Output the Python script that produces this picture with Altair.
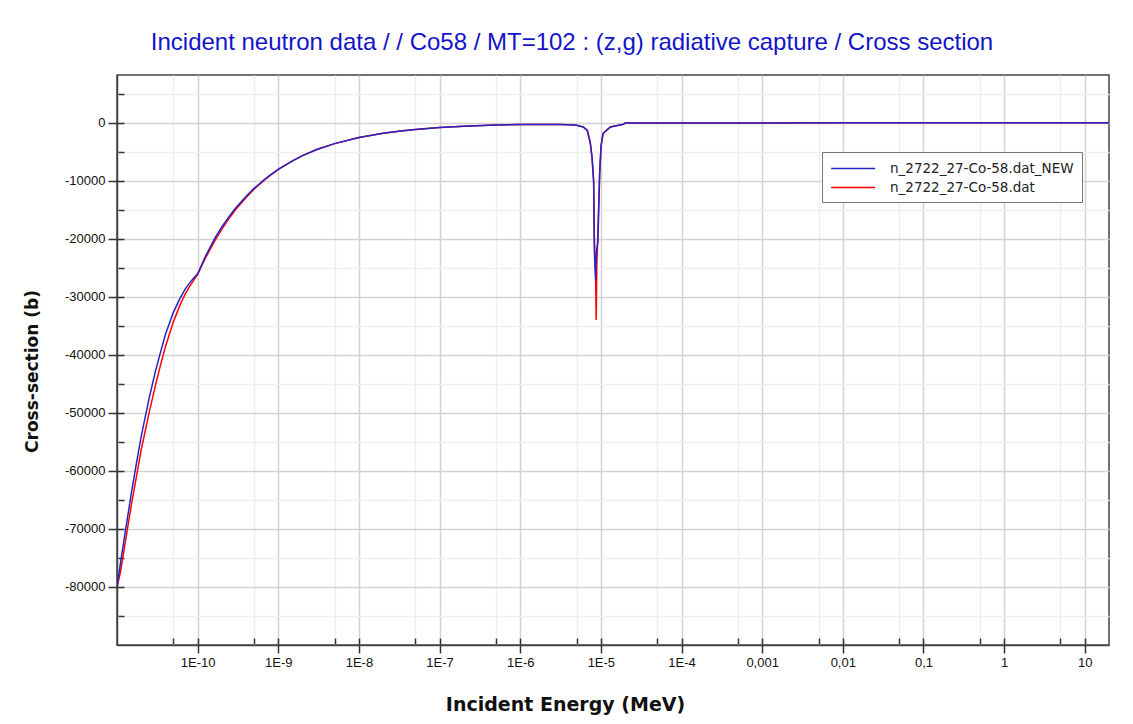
import altair as alt
import pandas as pd

TITLE = "Incident neutron data / / Co58 / MT=102 : (z,g) radiative capture / Cross section"
X_TITLE = "Incident Energy (MeV)"
Y_TITLE = "Cross-section (b)"
SERIES = ["n_2722_27-Co-58.dat_NEW", "n_2722_27-Co-58.dat"]
COLORS = ["#2323c8", "#ff0000"]

# series 1: n_2722_27-Co-58.dat_NEW (blue)
energy_new = [1e-11, 1.1e-11, 1.25e-11, 1.5e-11, 1.75e-11, 2e-11, 2.5e-11, 3e-11, 3.5e-11, 4e-11,
              5e-11, 6e-11, 7e-11, 8e-11, 9e-11, 1e-10, 1.25e-10, 1.65e-10, 2e-10, 2.5e-10,
              3e-10, 4e-10, 5e-10, 6.6e-10, 8e-10, 1e-9, 1.5e-9, 2e-9, 3e-9, 5e-9,
              1e-8, 2e-8, 3.3e-8, 5e-8, 1e-7, 2e-7, 5e-7, 1e-6, 2e-6, 3e-6,
              4e-6, 5e-6, 6.07e-6, 6.8e-6, 7.41e-6, 7.78e-6, 8.14e-6, 8.3e-6, 8.6e-6, 8.75e-6,
              9.2e-6, 9.66e-6, 1.006e-5, 1.065e-5, 1.31e-5, 1.9e-5, 2e-5, 1e-4, 1e-3, 1e-2,
              0.1, 1, 20]
xs_new = [-80000, -76000, -71000, -64000, -58500, -54000, -47500, -42800, -39300, -36400,
          -32670, -30340, -28660, -27540, -26700, -26020, -23000, -19800, -17900, -16000,
          -14600, -12650, -11300, -9850, -8950, -8000, -6550, -5650, -4600, -3580,
          -2530, -1790, -1400, -1130, -800, -570, -380, -300, -290, -300,
          -330, -420, -720, -1300, -3500, -5900, -9900, -22000, -27000, -22500,
          -20500, -8700, -3900, -1800, -700, -250, -30, -10, -4, -2,
          -1, -1, -1]

# series 2: n_2722_27-Co-58.dat (red)
energy_old = [1e-11, 1.1e-11, 1.25e-11, 1.5e-11, 1.75e-11, 2e-11, 2.5e-11, 3e-11, 3.5e-11, 4e-11,
              5e-11, 6e-11, 7e-11, 8e-11, 9e-11, 1e-10, 1.25e-10, 1.65e-10, 2e-10, 2.5e-10,
              3e-10, 4e-10, 5e-10, 6.6e-10, 8e-10, 1e-9, 1.5e-9, 2e-9, 3e-9, 5e-9,
              1e-8, 2e-8, 3.3e-8, 5e-8, 1e-7, 2e-7, 5e-7, 1e-6, 2e-6, 3e-6,
              4e-6, 5e-6, 6.07e-6, 6.8e-6, 7.41e-6, 7.78e-6, 8.14e-6, 8.3e-6, 8.45e-6, 8.6e-6,
              8.75e-6, 8.9e-6, 9.2e-6, 9.66e-6, 1.006e-5, 1.065e-5, 1.31e-5, 1.9e-5, 2e-5, 1e-4,
              1e-3, 1e-2, 0.1, 1, 20]
xs_old = [-80000, -77500, -72800, -66000, -60800, -56300, -50000, -45200, -41500, -38500,
          -34300, -31500, -29500, -28150, -27050, -26100, -23300, -20200, -18300, -16300,
          -14850, -12850, -11450, -9950, -9000, -8030, -6550, -5650, -4600, -3580,
          -2530, -1790, -1400, -1130, -800, -570, -380, -300, -290, -300,
          -330, -420, -730, -1320, -3600, -6100, -10300, -19500, -23000, -26000,
          -34000, -25000, -18500, -8900, -4000, -1850, -720, -260, -30, -10,
          -4, -2, -1, -1, -1]

x_major = [1e-10, 1e-9, 1e-8, 1e-7, 1e-6, 1e-5, 1e-4, 1e-3, 1e-2, 0.1, 1, 10]
x_labels = ["1E-10", "1E-9", "1E-8", "1E-7", "1E-6", "1E-5", "1E-4", "0,001", "0,01", "0,1", "1", "10"]
x_minor = [5e-11, 5e-10, 5e-9, 5e-8, 5e-7, 5e-6, 5e-5, 5e-4, 5e-3, 0.05, 0.5, 5]
y_major = [-80000, -70000, -60000, -50000, -40000, -30000, -20000, -10000, 0]
y_minor = [-85000, -75000, -65000, -55000, -45000, -35000, -25000, -15000, -5000, 5000]
x_domain = [1e-11, 20]
y_domain = [-90000, 8250]

df_new = pd.DataFrame({"E": energy_new, "xs": xs_new, "series": SERIES[0]})
df_old = pd.DataFrame({"E": energy_old, "xs": xs_old, "series": SERIES[1]})

x_all = sorted(x_major + x_minor)
y_all = sorted(y_major + y_minor)

xmaj_js = "[" + ",".join(repr(v) for v in x_major) + "]"
xlab_js = "[" + ",".join("'" + s + "'" for s in x_labels) + "]"
x_test = f"indexof({xmaj_js}, datum.value) >= 0"
x_label_expr = f"{x_test} ? {xlab_js}[indexof({xmaj_js}, datum.value)] : ''"
y_test = "datum.value % 10000 == 0"
y_label_expr = f"{y_test} ? (datum.value + '') : ''"

LABEL_FONT = "Liberation Sans"
TITLE_FONT = "DejaVu Sans"

x_scale = alt.Scale(type="log", domain=x_domain, nice=False)
y_scale = alt.Scale(domain=y_domain, nice=False, zero=False)
c_scale = alt.Scale(domain=SERIES, range=COLORS)

legend = alt.Legend(
    title=None, orient="none", legendX=705, legendY=77,
    fillColor="white", strokeColor="#777", padding=8, cornerRadius=0,
    symbolType="M-1,0H5", symbolSize=215, symbolStrokeWidth=1.5,
    labelOffset=43, labelFont="DejaVu Sans", labelFontSize=13.5, labelColor="#222",
    rowPadding=4, labelLimit=400,
)

main_x_axis = alt.Axis(
    values=x_all, labelExpr=x_label_expr,
    tickSize={"condition": {"test": x_test, "value": 8}, "value": 0},
    tickColor="#333", tickWidth=1.5,
    grid=True,
    gridColor={"condition": {"test": x_test, "value": "#d2d2d2"}, "value": "#efefef"},
    gridWidth=1.5,
    domainColor="#444", domainWidth=1.5,
    labelFont=LABEL_FONT, labelFontSize=13, labelColor="#111", labelPadding=3,
    labelFlush=False, labelOverlap=False,
    title=X_TITLE, titleFont=TITLE_FONT, titleFontSize=19, titleFontWeight="bold",
    titleColor="#111", titleX=448, titleY=59, titleAlign="center", titleBaseline="middle",
)
inner_x_axis = alt.Axis(
    orient="bottom", offset=-7, values=x_all, labels=False, domain=False, grid=False,
    tickSize={"condition": {"test": x_test, "value": 7}, "value": 6},
    tickColor="#333", tickWidth=1.5, title=None,
)
main_y_axis = alt.Axis(
    values=y_all, labelExpr=y_label_expr,
    tickSize={"condition": {"test": y_test, "value": 9}, "value": 0},
    tickColor="#333", tickWidth=1.5,
    grid=True,
    gridColor={"condition": {"test": y_test, "value": "#d2d2d2"}, "value": "#efefef"},
    gridWidth=1.5,
    domainColor="#444", domainWidth=1.5,
    labelFont=LABEL_FONT, labelFontSize=13, labelColor="#111", labelPadding=3,
    labelFlush=False, labelOverlap=False,
    title=Y_TITLE, titleFont=TITLE_FONT, titleFontSize=17, titleFontWeight="bold",
    titleColor="#111", titleX=-85, titleY=296, titleAngle=270,
    titleAlign="center", titleBaseline="middle",
)
inner_y_axis = alt.Axis(
    orient="left", offset=-7, values=y_all, labels=False, domain=False, grid=False,
    tickSize={"condition": {"test": y_test, "value": 7}, "value": 6},
    tickColor="#333", tickWidth=1.5, title=None,
)

red = alt.Chart(df_old).mark_line(strokeWidth=1.5, clip=True).encode(
    x=alt.X("E:Q", scale=x_scale, axis=main_x_axis),
    y=alt.Y("xs:Q", scale=y_scale, axis=main_y_axis),
    color=alt.Color("series:N", scale=c_scale, legend=legend),
    order=alt.Order("E:Q"),
)
blue = alt.Chart(df_new).mark_line(strokeWidth=1.5, clip=True).encode(
    x=alt.X("E:Q", scale=x_scale, axis=inner_x_axis),
    y=alt.Y("xs:Q", scale=y_scale, axis=inner_y_axis),
    color=alt.Color("series:N", scale=c_scale, legend=legend),
    order=alt.Order("E:Q"),
)

chart = alt.layer(red, blue).resolve_axis(x="independent", y="independent").properties(
    width=992, height=570,
    padding={"left": 109, "top": 67, "right": 16, "bottom": 71},
    autosize=alt.AutoSizeParams(type="none"),
    background="white",
    title=alt.TitleParams(
        text=TITLE, font="Liberation Sans", fontSize=24, fontWeight="normal",
        color="#1414c8", anchor="middle", frame="group", dx=-41, offset=1,
        baseline="alphabetic",
    ),
).configure_view(stroke="#444", strokeWidth=1.5)

chart.save("out.html", embed_options={"renderer": "svg", "actions": False})
